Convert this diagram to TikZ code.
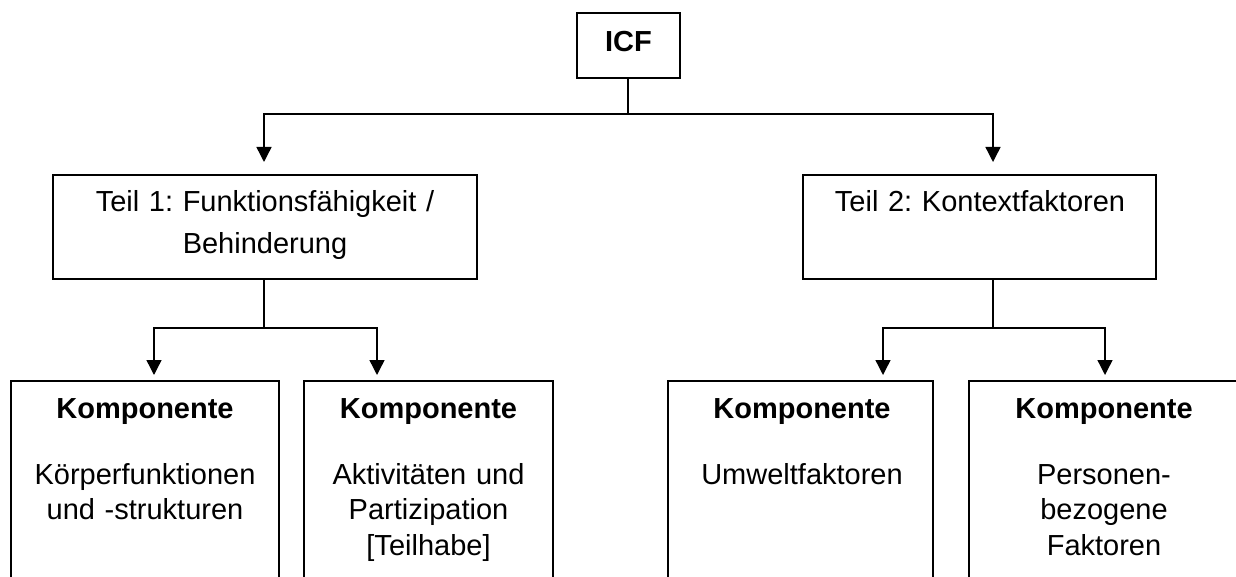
\documentclass[tikz,border=0pt]{standalone}
\usepackage{fontspec}
\setmainfont{Liberation Sans}
\usetikzlibrary{arrows.meta}
\frenchspacing

\tikzset{
  frame/.style={draw=black, line width=1.4pt, fill=none, inner sep=0pt, outer sep=0pt},
  label/.style={anchor=base, align=center, inner sep=0pt, font=\fontsize{29}{35.5}\selectfont\frenchspacing},
  bold/.style={label, font=\fontsize{29}{35.5}\selectfont\bfseries},
  conn/.style={draw=black, line width=1.4pt},
  arr/.style={conn, -{Triangle[width=15pt,length=15pt]}},
}

\begin{document}
\begin{tikzpicture}[x=1pt, y=-1pt]
  \useasboundingbox (0,0) rectangle (1236,577);
  \clip (0,0) rectangle (1236,577);

  % top level
  \node[frame, minimum width=103pt, minimum height=65pt] (icf) at (628.5,45.5) {};
  \node[bold] (icfT) at (628.5,52) {ICF};

  % the two parts
  \node[frame, minimum width=424pt, minimum height=104pt] (t1) at (265,227) {};
  \node[frame, minimum width=353pt, minimum height=104pt] (t2) at (979.5,227) {};
  \node[label, text width=420pt, font=\fontsize{29}{42}\selectfont\frenchspacing] (t1T) at (265,212)
    {Teil 1: Funktionsfähigkeit /\\Behinderung};
  \node[label, text width=350pt] (t2T) at (980,212) {Teil 2: Kontextfaktoren};

  % components
  \node[frame, minimum width=268pt, minimum height=219pt] (b1) at (145,490.5) {};
  \node[frame, minimum width=249pt, minimum height=219pt] (b2) at (428.5,490.5) {};
  \node[frame, minimum width=265pt, minimum height=219pt] (b3) at (800.5,490.5) {};
  \node[frame, minimum width=271pt, minimum height=219pt] (b4) at (1104.5,490.5) {};

  \node[bold] (k1) at (145,418) {Komponente};
  \node[bold] (k2) at (428.5,418) {Komponente};
  \node[bold] (k3) at (802,418) {Komponente};
  \node[bold] (k4) at (1104,418) {Komponente};

  \node[label, text width=260pt] (c1) at (145,484) {Körperfunktionen\\und -strukturen};
  \node[label, text width=240pt] (c2) at (428.5,484) {Aktivitäten und\\Partizipation\\{[Teilhabe]}};
  \node[label, text width=260pt] (c3) at (802,484) {Umweltfaktoren};
  \node[label, text width=260pt] (c4) at (1104,484) {Personen-\\bezogene\\Faktoren};

  % connectors from the top
  \coordinate (j0) at (628,114);
  \draw[conn] ([xshift=-0.5pt]icf.south) -- (j0);
  \draw[arr, shorten >=13pt] (j0) -| ([xshift=-1pt]t1.north);
  \draw[arr, shorten >=13pt] (j0) -| ([xshift=13.5pt]t2.north);

  % connectors of part 1
  \coordinate (j1) at (264,328);
  \draw[conn] ([xshift=-1pt]t1.south) -- (j1);
  \draw[arr, shorten >=6pt] (j1) -| ([xshift=9pt]b1.north);
  \draw[arr, shorten >=6pt] (j1) -| ([xshift=-51.5pt]b2.north);

  % connectors of part 2
  \coordinate (j2) at (993,328);
  \draw[conn] ([xshift=13.5pt]t2.south) -- (j2);
  \draw[arr, shorten >=6pt] (j2) -| ([xshift=82.5pt]b3.north);
  \draw[arr, shorten >=6pt] (j2) -| ([xshift=0.5pt]b4.north);
\end{tikzpicture}
\end{document}
